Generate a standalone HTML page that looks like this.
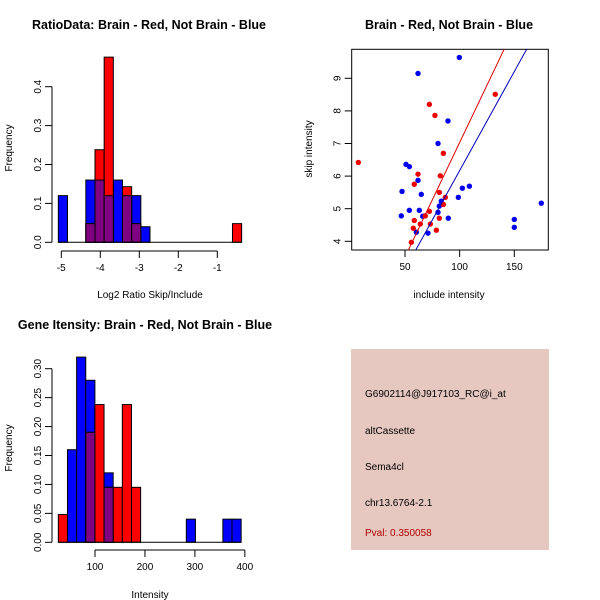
<!DOCTYPE html>
<html><head><meta charset="utf-8"><style>
html,body{margin:0;padding:0;background:#fff;}
svg{display:block;font-family:"Liberation Sans",sans-serif;}
</style></head><body>
<svg id="c" width="600" height="600" viewBox="0 0 600 600">
<rect width="600" height="600" fill="#fff"/>
<text x="149" y="29" font-size="12.5" font-weight="bold" text-anchor="middle">RatioData: Brain - Red, Not Brain - Blue</text>
<text x="449" y="29" font-size="12.5" font-weight="bold" text-anchor="middle">Brain - Red, Not Brain - Blue</text>
<text x="145" y="329" font-size="12.5" font-weight="bold" text-anchor="middle">Gene Itensity: Brain - Red, Not Brain - Blue</text>
<text x="150" y="298" font-size="10" text-anchor="middle">Log2 Ratio Skip/Include</text>
<text x="150" y="598" font-size="10" text-anchor="middle">Intensity</text>
<text x="449" y="298" font-size="10" text-anchor="middle">include intensity</text>
<text transform="translate(12,148) rotate(-90)" font-size="10" text-anchor="middle">Frequency</text>
<text transform="translate(12,448) rotate(-90)" font-size="10" text-anchor="middle">Frequency</text>
<text transform="translate(312,149) rotate(-90)" font-size="10" text-anchor="middle">skip intensity</text>
<rect x="351" y="349" width="198" height="201" fill="#E6C8C0"/>
<text x="365" y="397" font-size="10">G6902114@J917103_RC@i_at</text>
<text x="365" y="434" font-size="10">altCassette</text>
<text x="365" y="470" font-size="10">Sema4cl</text>
<text x="365" y="506" font-size="10">chr13.6764-2.1</text>
<text x="365" y="536" font-size="10" fill="#B00000">Pval: 0.350058</text>
</svg>
<script>
// ---- data ----
const ratioBinStart = -5.076;
const ratioBinWidth = 0.235;
const ratioBlue = [0.12,0,0,0.16,0.16,0.12,0.16,0.12,0.12,0.04,0,0,0,0,0,0,0,0,0,0];
const ratioRed  = [0,0,0,0.048,0.238,0.476,0,0.143,0.048,0,0,0,0,0,0,0,0,0,0,0.048];
const ratioXTicks = [-5,-4,-3,-2,-1];
const ratioYTicks = [0,0.1,0.2,0.3,0.4];
const intBinStart = 26.6;
const intBinWidth = 18.3;
const intBlue = [0,0.16,0.32,0.28,0,0.12,0,0,0,0,0,0,0,0,0.04,0,0,0,0.04,0.04];
const intRed  = [0.048,0,0,0.19,0.238,0.095,0.095,0.238,0.095,0,0,0,0,0,0,0,0,0,0,0];
const intXTicks = [100,200,300,400];
const intYTicks = [0,0.05,0.10,0.15,0.20,0.25,0.30];
const blueX = [99.7,61.9,89.3,80.2,50.9,54.0,61.9,47.3,64.9,102.5,108.9,98.8,83.2,81.4,80.2,46.6,54.0,63.1,66.2,89.6,60.4,71.0,150,150,174.7];
const blueY = [9.64,9.15,7.69,7.0,6.36,6.29,5.87,5.53,5.44,5.63,5.69,5.35,5.23,5.08,4.89,4.78,4.95,4.95,4.77,4.71,4.28,4.25,4.67,4.43,5.17];
const redX = [7.3,72.3,77.4,85.1,61.9,58.5,82.3,81.4,86.9,85.1,72.3,68.6,58.5,64,73.2,81.4,57.6,78.7,55.8,132.6];
const redY = [6.42,8.2,7.86,6.7,6.06,5.75,6.01,5.5,5.35,5.13,4.92,4.78,4.64,4.53,4.53,4.71,4.4,4.34,3.97,8.51];
const fitIntercept = [0.0, 0.1];   // red, blue
const fitSlope = [0.0703, 0.0607];
const scatXTicks = [50,100,150];
const scatYTicks = [4,5,6,7,8,9];

const svg = document.getElementById('c');
const NS = 'http://www.w3.org/2000/svg';
function el(tag, attrs, parent){const e=document.createElementNS(NS,tag);for(const k in attrs)e.setAttribute(k,attrs[k]);(parent||svg).appendChild(e);return e;}

function hist(xs, ys, binStart, binW, blue, red, xTicks, yTicks, yLabelFmt, axisY, tickYLen, prefix){
  const n = blue.length;
  const draw = (vals, col, nm) => vals.forEach((v,i)=>{ if(v<=0) return;
    const x0=xs(binStart+i*binW), x1=xs(binStart+(i+1)*binW);
    const r=el('rect',{x:x0,y:ys(v),width:x1-x0,height:ys(0)-ys(v),fill:col,stroke:'#000','stroke-width':1});
    
    
  });
  draw(blue,'#0000FF','blue');
  draw(red,'#FF0000','red');
  const ov = blue.map((b,i)=>Math.min(b,red[i]));
  draw(ov,'#7F0080','overlap');
  const bl=el('line',{x1:xs(binStart),x2:xs(binStart+n*binW),y1:ys(0),y2:ys(0),stroke:'#000'});
  
  
  const ax=52;
  const ya=el('line',{x1:ax,x2:ax,y1:ys(yTicks[0]),y2:ys(yTicks[yTicks.length-1]),stroke:'#000'});
  
  
  yTicks.forEach(t=>{
    el('line',{x1:ax-7,x2:ax,y1:ys(t),y2:ys(t),stroke:'#000'});
    const tx=el('text',{transform:`translate(${ax-11},${ys(t)}) rotate(-90)`,'font-size':10,'text-anchor':'middle',fill:'#000'});
    tx.textContent=yLabelFmt(t);
    
    
  });
  const xa=el('line',{x1:xs(xTicks[0]),x2:xs(xTicks[xTicks.length-1]),y1:axisY,y2:axisY,stroke:'#000'});
  
  
  xTicks.forEach(t=>{
    el('line',{x1:xs(t),x2:xs(t),y1:axisY,y2:axisY+7,stroke:'#000'});
    const tx=el('text',{x:xs(t),y:axisY+20,'font-size':10,'text-anchor':'middle'});
    tx.textContent=String(t);
    
    
  });
}

const rx = v => 61.3 + (v+5)*39;
const ry = v => 242.3 - v*389;
hist(rx, ry, ratioBinStart, ratioBinWidth, ratioBlue, ratioRed, ratioXTicks, ratioYTicks, t=>t.toFixed(1), 251, 7, 'ratio');

const ix = v => 95 + (v-100)*0.4995;
const iy = v => 542.3 - v*578.7;
hist(ix, iy, intBinStart, intBinWidth, intBlue, intRed, intXTicks, intYTicks, t=>t.toFixed(2), 550, 7, 'intensity');

const sx = v => 405 + (v-50)*1.093;
const sy = v => 241.3 - (v-4)*32.6;
const box={x0:351.7,x1:548.3,y0:49.3,y1:250};
const clip=el('clipPath',{id:'sc'});el('rect',{x:box.x0,y:box.y0,width:box.x1-box.x0,height:box.y1-box.y0},clip);
const bx=el('rect',{x:box.x0,y:box.y0,width:box.x1-box.x0,height:box.y1-box.y0,fill:'none',stroke:'#000'});


const g=el('g',{'clip-path':'url(#sc)'});
blueX.forEach((x,i)=>{const c=el('circle',{cx:sx(x),cy:sy(blueY[i]),r:2.7,fill:'#0000EE'},g);
  
  });
redX.forEach((x,i)=>{const c=el('circle',{cx:sx(x),cy:sy(redY[i]),r:2.7,fill:'#EE0000'},g);
  
  });
['#DD0000','#0000BB'].forEach((col,k)=>{
  const xa=0, xb=250;
  const l=el('line',{x1:sx(xa),y1:sy(fitIntercept[k]+fitSlope[k]*xa),x2:sx(xb),y2:sy(fitIntercept[k]+fitSlope[k]*xb),stroke:col,'stroke-width':1},g);
  
  
});
scatXTicks.forEach(t=>{
  el('line',{x1:sx(t),x2:sx(t),y1:box.y1,y2:box.y1+7,stroke:'#000'});
  const tx=el('text',{x:sx(t),y:box.y1+20,'font-size':10,'text-anchor':'middle'});tx.textContent=String(t);
  
  
});
scatYTicks.forEach(t=>{
  el('line',{x1:box.x0-7,x2:box.x0,y1:sy(t),y2:sy(t),stroke:'#000'});
  const tx=el('text',{transform:`translate(${box.x0-11},${sy(t)}) rotate(-90)`,'font-size':10,'text-anchor':'middle'});tx.textContent=String(t);
  
  
});
</script>
</body></html>
